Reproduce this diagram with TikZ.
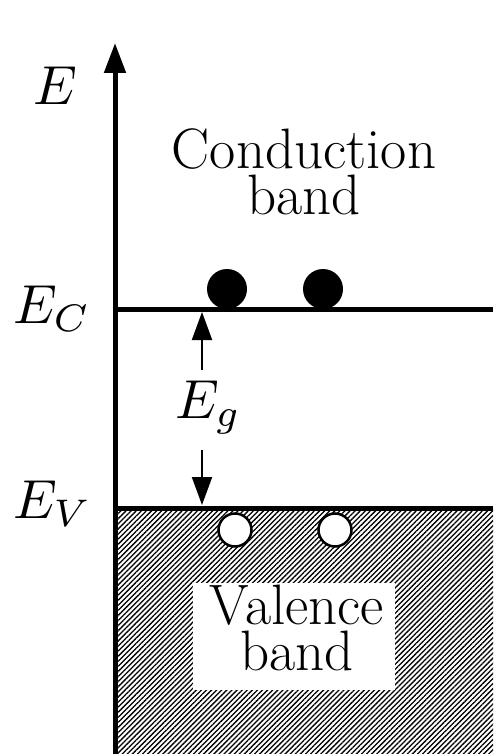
\documentclass[tikz,border=0pt]{standalone}
\usepackage{tikz}
\usetikzlibrary{arrows.meta, patterns.meta}

\tikzset{
  level/.style={line width=5pt},
  electron/.style={circle, fill=black, inner sep=0pt, minimum size=40pt},
  hole/.style={circle, draw=black, line width=2.5pt, fill=white, inner sep=0pt, minimum size=33pt},
  gaparrow/.style={line width=2pt, -{Triangle[length=28pt, width=20pt]}},
  bandtext/.style={align=center, inner sep=0pt, font=\fontsize{57}{46}\selectfont},
  levellabel/.style={anchor=base west, inner sep=0pt, scale=5.5}
}

\begin{document}
\begin{tikzpicture}[x=1pt, y=-1pt]
\useasboundingbox (0,0) rectangle (493,754);
% energy axis
\coordinate (axisbase) at (115,754);
\coordinate (axistop) at (115,43);
\node[levellabel] (Elabel) at (32,105) {$E$};
% band edges
\coordinate (ECleft) at (115,309);
\coordinate (ECright) at (493,309);
\coordinate (EVleft) at (115,508);
\coordinate (EVright) at (493,508);
% valence band filling
\fill[pattern={Lines[angle=45, distance=3.6pt, line width=1.3pt]}] (EVleft) rectangle (493,754);
\node[fill=white, minimum width=202pt, minimum height=107pt] (vbox) at (294,636) {};
\node[bandtext] (valence) at (297,628) {Valence\\band};
\node[bandtext] (conduction) at (304,172) {Conduction\\band};
% lines
\draw[line width=5pt, -{Triangle[length=30pt, width=21pt]}] (axisbase) -- (axistop);
\draw[level] (ECleft) -- (ECright);
\draw[level] (EVleft) -- (EVright);
\node[levellabel] (EClabel) at (12,323) {$E_C$};
\node[levellabel] (EVlabel) at (12,518) {$E_V$};
% carriers
\node[electron] (e1) at (227,289) {};
\node[electron] (e2) at (323,289) {};
\node[hole] (h1) at (235,530) {};
\node[hole] (h2) at (335,530) {};
% band gap
\node[levellabel] (Eg) at (174,418) {$E_g$};
\coordinate (gapup) at (202,370);
\coordinate (gapdown) at (202,450);
\coordinate (gapC) at (202,312);
\coordinate (gapV) at (202,505);
\draw[gaparrow] (gapup) -- (gapC);
\draw[gaparrow] (gapdown) -- (gapV);
\end{tikzpicture}
\end{document}
